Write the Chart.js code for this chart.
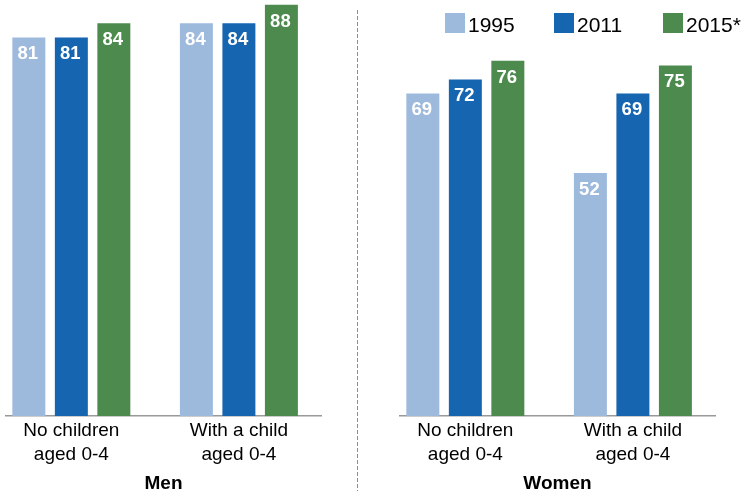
<!DOCTYPE html>
<html>
<head>
<meta charset="utf-8">
<script src="https://cdn.jsdelivr.net/npm/chart.js@4"></script>
<style>
  body { margin: 0; background: #fff; }
  #wrap { position: relative; width: 744px; height: 491px; overflow: hidden; font-family: "Liberation Sans", Arial, sans-serif; }
  canvas { position: absolute; top: 0; }
  #menChart { left: 0; }
  #womenChart { left: 358px; }
  #divider { position: absolute; left: 357px; top: 10px; width: 1px; height: 481px;
    background: repeating-linear-gradient(to bottom, #8c8c8c 0 4px, transparent 4px 6px); }
  #legend { position: absolute; left: 445px; top: 13px; display: flex; }
  #legend .item { width: 109px; display: flex; align-items: flex-start; }
  #legend .box { width: 20px; height: 20px; margin-right: 3px; }
  #legend .txt { font-size: 21px; line-height: 20px; position: relative; top: 2px; color: #000; }
</style>
</head>
<body>
<div id="wrap">
  <canvas id="menChart" width="358" height="491"></canvas>
  <canvas id="womenChart" width="386" height="491"></canvas>
  <div id="divider"></div>
  <div id="legend"></div>
</div>
<script>
// data
const categories = [['No children', 'aged 0-4'], ['With a child', 'aged 0-4']];
const seriesLabels = ['1995', '2011', '2015*'];
const seriesColors = ['#9DB9DC', '#1565B0', '#4D8A4E'];
const men1995 = [81, 84];
const men2011 = [81, 84];
const men2015 = [84, 88];
const women1995 = [69, 52];
const women2011 = [72, 69];
const women2015 = [76, 75];

const FONT = '"Liberation Sans", Arial, sans-serif';

// white value labels inside the top of each bar
const valueLabels = {
  id: 'valueLabels',
  afterDatasetsDraw(chart) {
    const ctx = chart.ctx;
    ctx.save();
    ctx.font = 'bold 18.5px ' + FONT;
    ctx.fillStyle = '#fff';
    ctx.textAlign = 'center';
    ctx.textBaseline = 'alphabetic';
    chart.data.datasets.forEach((ds, i) => {
      chart.getDatasetMeta(i).data.forEach((bar, j) => {
        ctx.fillText(String(ds.data[j]), bar.x - 1, bar.y + 22);
      });
    });
    ctx.restore();
  }
};

function makePanel(id, title, values, padLeft, padRight) {
  const ctx = document.getElementById(id).getContext('2d');
  return new Chart(ctx, {
    type: 'bar',
    data: {
      labels: categories.map((c, i) => i),
      datasets: values.map((v, i) => ({
        label: seriesLabels[i],
        data: v,
        backgroundColor: seriesColors[i],
        borderWidth: 0,
        categoryPercentage: 0.761,
        barPercentage: 0.776
      }))
    },
    options: {
      responsive: false,
      animation: false,
      layout: { padding: { left: padLeft, right: padRight, top: 0, bottom: 0 } },
      plugins: { legend: { display: false }, tooltip: { enabled: false } },
      scales: {
        x: {
          type: 'linear',
          offset: false,
          min: -0.39,
          max: 1.49,
          afterBuildTicks: (scale) => { scale.ticks = categories.map((c, i) => ({ value: i })); },
          afterFit: (scale) => { scale.height = 75; },
          grid: { display: false, drawTicks: false },
          border: { display: true, color: '#999', width: 1.5 },
          ticks: {
            autoSkip: false,
            maxRotation: 0,
            padding: 3.5,
            color: '#000',
            font: { family: FONT, size: 19, lineHeight: 1.226 },
            callback: (value) => categories[value]
          },
          title: {
            display: true,
            text: title,
            color: '#000',
            padding: 0,
            font: { family: FONT, size: 19, weight: 'bold', lineHeight: 0.8 }
          }
        },
        y: { display: false, min: 0, max: 89 }
      }
    },
    plugins: [valueLabels]
  });
}

makePanel('menChart', 'Men', [men1995, men2011, men2015], 6, 37);
const women = makePanel('womenChart', 'Women', [women1995, women2011, women2015], 42, 29);

// html legend built from the chart's datasets
const legendEl = document.getElementById('legend');
women.data.datasets.forEach((ds) => {
  const item = document.createElement('div');
  item.className = 'item';
  item.innerHTML = `<span class="box" style="background:${ds.backgroundColor}"></span><span class="txt">${ds.label}</span>`;
  legendEl.appendChild(item);
});
</script>
</body>
</html>
